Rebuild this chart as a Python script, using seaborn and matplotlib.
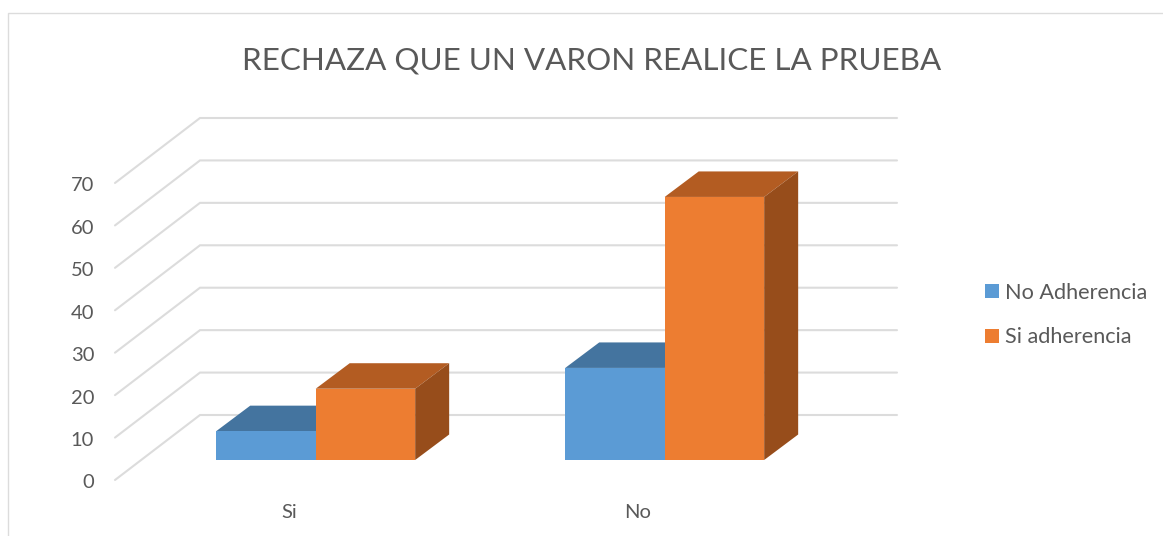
import matplotlib
matplotlib.use("Agg")
import matplotlib.pyplot as plt
import pandas as pd
import seaborn as sns
from matplotlib.patches import Polygon, Rectangle

categories = ["Si", "No"]
series_names = ["No Adherencia", "Si adherencia"]
no_adherencia = [6.8, 21.7]
si_adherencia = [16.8, 62]
tick_values = [0, 10, 20, 30, 40, 50, 60, 70]

COLORS = ["#5B9BD5", "#ED7D31"]
TOP_COLORS = ["#44749F", "#B35C22"]
SIDE_COLORS = ["#3A6389", "#974D1B"]
GRID = "#DCDCDC"
TEXT = "#595959"

W, H = 1163, 536
# pixel geometry of the fake 3D box
PX_PER_UNIT = 4.243
PX_PER_CAT = 349.0
X0_PX, Y0_PX = 315.7, 460.0   # where category 0 / value 0 fall
LEFT, RIGHT, BOTTOM, TOP = 115, 897, 480, 118
AX_BOTTOM = 483   # a little extra room so the nudged "0" label stays in view
WALL_DX, WALL_DY = 85 / PX_PER_CAT, 65 / PX_PER_UNIT
BAR_DX, BAR_DY = 34 / PX_PER_CAT, 25.5 / PX_PER_UNIT
FRONT = (Y0_PX - BOTTOM) / PX_PER_UNIT
LABEL_NUDGE = -0.35   # tick labels sit a touch under the wall lines

sns.set_style("white")
plt.rcParams["font.family"] = ["Lato", "DejaVu Sans"]

df = pd.DataFrame({
    "cat": categories * 2,
    "serie": [series_names[0]] * 2 + [series_names[1]] * 2,
    "valor": no_adherencia + si_adherencia,
})

fig = plt.figure(figsize=(W / 100, H / 100), dpi=100)
ax = fig.add_axes([LEFT / W, 1 - AX_BOTTOM / H, (RIGHT - LEFT) / W, (AX_BOTTOM - TOP) / H])
ax.patch.set_alpha(0)

sns.barplot(data=df, x="cat", y="valor", hue="serie", hue_order=series_names,
            order=categories, palette=COLORS, width=0.57, gap=0,
            saturation=1, linewidth=0, ax=ax, zorder=3)

xmin, xmax = (LEFT - X0_PX) / PX_PER_CAT, (RIGHT - X0_PX) / PX_PER_CAT

# walls: diagonal on the side, straight on the back
for v in tick_values:
    y = v + FRONT
    ax.plot([xmin, xmin + WALL_DX, xmax], [y, y + WALL_DY, y + WALL_DY],
            color=GRID, lw=1.5, zorder=1, clip_on=False, solid_joinstyle="miter")

# depth faces, taken from the bars seaborn drew
for i, cont in enumerate(ax.containers):
    for bar in cont:
        x0, x1 = bar.get_x(), bar.get_x() + bar.get_width()
        h = bar.get_height()
        ax.add_patch(Polygon([(x0, h), (x1, h), (x1 + BAR_DX, h + BAR_DY), (x0 + BAR_DX, h + BAR_DY)],
                             closed=True, fc=TOP_COLORS[i], ec="none", zorder=2))
        ax.add_patch(Polygon([(x1, 0), (x1 + BAR_DX, BAR_DY), (x1 + BAR_DX, h + BAR_DY), (x1, h)],
                             closed=True, fc=SIDE_COLORS[i], ec="none", zorder=2))

ax.set_xlabel("")
ax.set_ylabel("")
ax.set_yticks([v + FRONT + LABEL_NUDGE for v in tick_values], [str(v) for v in tick_values])
ax.set_xticks([-0.075, 0.923], categories)
ax.set_xlim(xmin, xmax)
ax.set_ylim((Y0_PX - AX_BOTTOM) / PX_PER_UNIT, (Y0_PX - TOP) / PX_PER_UNIT)
ax.tick_params(axis="y", length=0, pad=15, labelsize=14.5, labelcolor=TEXT)
ax.tick_params(axis="x", length=0, pad=15, labelsize=14.5, labelcolor=TEXT)
sns.despine(ax=ax, left=True, bottom=True)

handles, labels = ax.get_legend_handles_labels()
ax.legend(handles, labels, loc="center left", bbox_to_anchor=(985 / W, 1 - 315 / H),
          bbox_transform=fig.transFigure, frameon=False, fontsize=15.6, labelcolor=TEXT,
          handlelength=0.65, handleheight=0.65, handletextpad=0.28, labelspacing=1.15,
          borderpad=0, borderaxespad=0)

fig.text(592 / W, 1 - 60 / H, "RECHAZA QUE UN VARON REALICE LA PRUEBA",
         ha="center", va="center", fontsize=22.6, color=TEXT)

# chart frame, cut by the screenshot on the right and bottom
fig.add_artist(Rectangle((7.5 / W, -0.05), 1.1, 1.05 - 13.5 / H, transform=fig.transFigure,
                         fc="none", ec=GRID, lw=1.0))

fig.savefig("out.png", dpi=100)
